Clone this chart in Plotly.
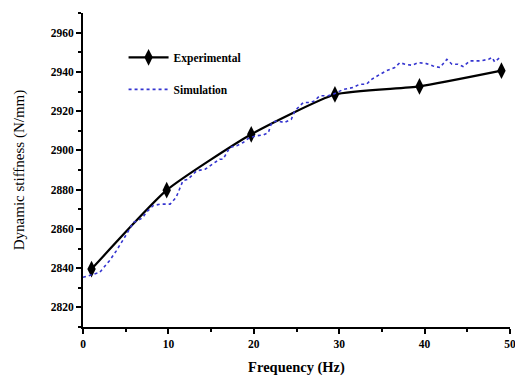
import plotly.graph_objects as go

exp_x = [1.0, 9.8, 19.7, 29.5, 39.4, 49.0]
exp_y = [2839.5, 2879.7, 2908.2, 2928.5, 2932.6, 2940.6]

sim_x = [0, 1.95, 3.1, 3.9, 5.1, 5.9, 6.4, 7.0, 7.4, 8.2, 9.0, 10.2, 10.9, 11.7, 12.3,
         13.3, 14.3, 15.2, 16.0, 16.4, 17.2, 18.0, 18.75, 19.5, 20.3, 21.1, 21.7, 22.1,
         22.7, 23.6, 24.4, 24.8, 25.8, 26.6, 27.1, 27.7, 28.7, 29.3, 30.5, 31.6, 32.4,
         33.2, 33.8, 34.8, 35.5, 36.5, 37.1, 37.7, 38.5, 39.3, 40.2, 41.0, 41.8, 42.6,
         43.2, 43.9, 44.5, 45.3, 46.5, 47.5, 47.9, 48.2, 48.8]
sim_y = [2835.3, 2837.8, 2843.8, 2848.8, 2857.3, 2863.3, 2864.1, 2865.8, 2868.4, 2871.8,
         2872.6, 2872.6, 2876.0, 2884.5, 2885.3, 2889.6, 2890.4, 2893.0, 2895.5, 2895.5,
         2901.5, 2902.3, 2904.0, 2906.5, 2907.4, 2907.9, 2909.0, 2914.2, 2915.0, 2914.2,
         2915.9, 2920.1, 2924.4, 2924.4, 2925.2, 2927.8, 2927.8, 2928.6, 2931.1, 2932.0,
         2933.7, 2933.7, 2936.2, 2938.8, 2940.5, 2942.2, 2944.7, 2943.9, 2943.4, 2944.7,
         2944.2, 2943.0, 2942.2, 2946.4, 2943.9, 2943.9, 2942.7, 2945.6, 2945.6, 2946.4,
         2947.3, 2945.1, 2947.3]

x_ticks = [0, 10, 20, 30, 40, 50]
y_ticks = [2820, 2840, 2860, 2880, 2900, 2920, 2940, 2960]

serif = "Liberation Serif"

fig = go.Figure()
fig.add_trace(go.Scatter(
    x=exp_x, y=exp_y, name="<b>Experimental</b>", mode="lines+markers",
    legendgroup="a",
    line=dict(color="black", width=2.2, shape="spline", smoothing=0.5),
    marker=dict(symbol="diamond-tall", size=12, color="black"),
))
fig.add_trace(go.Scatter(
    x=sim_x, y=sim_y, name="<b>Simulation</b>", mode="lines",
    legendgroup="b",
    line=dict(color="#3535d0", width=1.6, dash="dot"),
))

axis_common = dict(
    showline=True, linecolor="black", linewidth=2,
    ticks="outside", ticklen=5, tickwidth=2, tickcolor="black",
    showgrid=False, zeroline=False, mirror=False,
    ticklabeloverflow="allow", automargin=False,
    tickfont=dict(family=serif, size=11.5, color="black", weight="bold"),
)

fig.update_xaxes(
    range=[0, 50], tickvals=x_ticks, ticktext=[str(v) for v in x_ticks],
    title=dict(text="<b>Frequency (Hz)</b>", font=dict(family=serif, size=14.5, color="black"),
               standoff=14),
    minor=dict(dtick=5, ticks="outside", ticklen=3, tickwidth=2, tickcolor="black"),
    **axis_common,
)
fig.update_yaxes(
    range=[2810, 2970], tickvals=y_ticks, ticktext=[str(v) for v in y_ticks],
    title=dict(text="Dynamic stiffness (N/mm)", font=dict(family=serif, size=15, color="black"),
               standoff=22),
    minor=dict(dtick=10, tick0=2810, ticks="outside", ticklen=3, tickwidth=2, tickcolor="black"),
    **axis_common,
)

fig.update_layout(
    width=515, height=376,
    margin=dict(l=83, r=5, t=13, b=49),
    plot_bgcolor="white", paper_bgcolor="white",
    showlegend=True,
    legend=dict(x=0.095, y=0.905, xanchor="left", yanchor="top",
                bgcolor="rgba(0,0,0,0)", tracegroupgap=13,
                itemwidth=40,
                font=dict(family=serif, size=11.5, color="black")),
)

fig.write_html("out.html")
